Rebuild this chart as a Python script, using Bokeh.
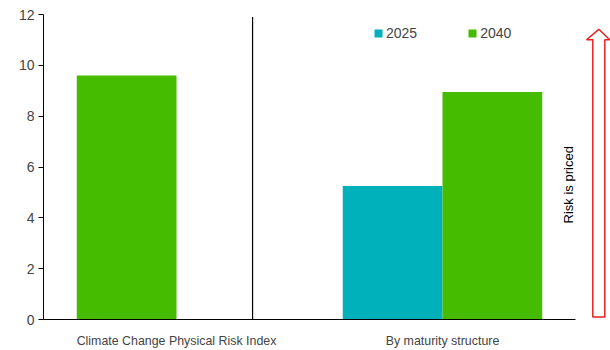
from bokeh.plotting import figure
from bokeh.models import FactorRange, Range1d, Legend, LegendItem, ColumnDataSource, FixedTicker
from bokeh.transform import dodge
from bokeh.layouts import row
from bokeh.embed import file_html
from bokeh.resources import INLINE
from bokeh.core.properties import value

categories = ["Climate Change Physical Risk Index", "By maturity structure"]
series_names = ["2025", "2040"]
index_value = [9.6, None]          # single-series bar in first category
vals_2025 = [None, 5.25]
vals_2040 = [None, 8.95]
y_ticks = [0, 2, 4, 6, 8, 10, 12]

TEAL = "#00B1BC"
GREEN = "#45BC00"
FONT = "Liberation Sans"

p = figure(x_range=FactorRange(*categories, range_padding=0, factor_padding=0),
           y_range=Range1d(0, 12), width=580, height=350,
           output_backend="svg", toolbar_location=None,
           min_border_left=43, min_border_right=5, min_border_top=14, min_border_bottom=31)

nan = float("nan")
src = ColumnDataSource(dict(cat=categories,
                            idx=[v if v is not None else nan for v in index_value],
                            a=[v if v is not None else nan for v in vals_2025],
                            b=[v if v is not None else nan for v in vals_2040]))

p.vbar(x=dodge("cat", -0.1875, range=p.x_range), top="idx", width=0.375, source=src,
       fill_color=GREEN, line_color=None)
r1 = p.vbar(x=dodge("cat", -0.1875, range=p.x_range), top="a", width=0.375, source=src,
            fill_color=TEAL, line_color=None)
r2 = p.vbar(x=dodge("cat", 0.1875, range=p.x_range), top="b", width=0.375, source=src,
            fill_color=GREEN, line_color=None)

# divider line
p.segment(x0=[0.786], y0=[0], x1=[0.786], y1=[11.9], line_color="black", line_width=1.2)

# rotated label
p.text(x=[1.974], y=[5.3], text=["Risk is priced"], angle=1.5708,
       text_font=value(FONT), text_font_size="13px", text_align="center",
       text_baseline="middle", text_color="black")

legend = Legend(items=[LegendItem(label=series_names[0], renderers=[r1]),
                       LegendItem(label=series_names[1], renderers=[r2])],
                orientation="horizontal", location=(330, 278),
                glyph_width=10, glyph_height=10, label_standoff=3, spacing=50,
                padding=0, margin=0, border_line_color=None, background_fill_alpha=0,
                label_text_font=FONT, label_text_font_size="14px")
p.add_layout(legend, "center")

p.xgrid.visible = False
p.ygrid.visible = False
p.outline_line_color = None

p.yaxis.ticker = FixedTicker(ticks=y_ticks)
p.yaxis.major_tick_out = 5
p.yaxis.major_tick_in = 0
p.yaxis.minor_tick_line_color = None
p.yaxis.major_label_standoff = 4
p.yaxis.major_label_text_font = FONT
p.yaxis.major_label_text_font_size = "14px"
p.yaxis.axis_line_color = "black"
p.yaxis.major_tick_line_color = "black"

p.xaxis.major_tick_line_color = None
p.xaxis.major_label_standoff = 8
p.xaxis.major_label_text_font = FONT
p.xaxis.major_label_text_font_size = "12.4px"
p.xaxis.axis_line_color = "black"

# arrow panel
a = figure(x_range=Range1d(0, 30), y_range=Range1d(350, 0), width=30, height=350,
           output_backend="svg", toolbar_location=None,
           min_border=0)
a.axis.visible = False
a.grid.visible = False
a.outline_line_color = None
arrow_x = [18.3, 29.3, 24.3, 24.3, 12.3, 12.3, 6.0]
arrow_y = [17, 29, 29, 347, 347, 29, 29]
a.patch(arrow_x, arrow_y, fill_color="white", line_color="#E8211F", line_width=1.5)

layout = row(p, a, spacing=0)
open("out.html", "w").write(file_html(layout, INLINE))
